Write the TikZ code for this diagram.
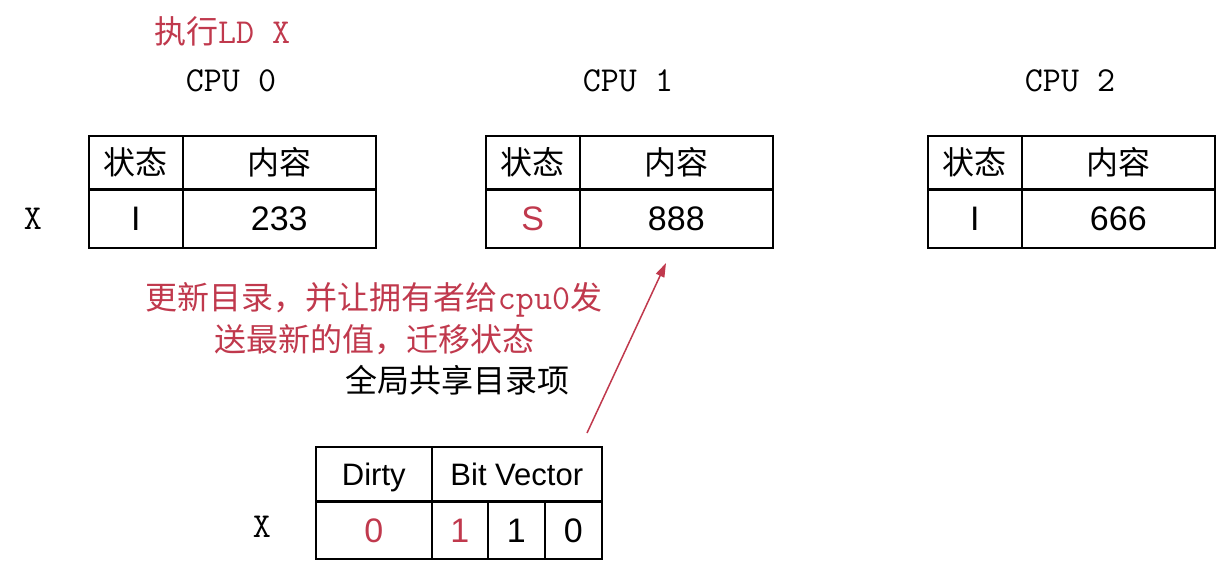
\documentclass[tikz,border=0pt]{standalone}
\usepackage{fontspec}
\setmainfont{Liberation Sans}
\newfontfamily\cjk{Noto Sans CJK SC}
\newcommand\mymono{\ttfamily}
\usetikzlibrary{arrows.meta}
\definecolor{hlred}{RGB}{192,57,77}
\tikzset{
  cell/.style={draw=black, line width=1.6pt, inner sep=0pt, anchor=north west, text height=24.5pt, text depth=0pt, font=\fontsize{34}{38}\selectfont},
  hdr/.style={cell, text height=26pt, text depth=2.5pt, font=\cjk\fontsize{32}{36}\selectfont},
  hdrlat/.style={cell, text height=22.5pt, text depth=0pt, font=\fontsize{31}{36}\selectfont},
  monolbl/.style={inner sep=0pt, font=\mymono\fontsize{35}{38}\selectfont},
  cjklbl/.style={inner sep=0pt, font=\cjk\fontsize{32}{36}\selectfont},
  thickline/.style={line width=3pt},
  redarrow/.style={draw=hlred, line width=1.5pt, -{Triangle[length=14pt,width=9pt]}}
}
\begin{document}
\begin{tikzpicture}[x=1pt,y=-1pt]
\useasboundingbox (0,0) rectangle (1218,574);
% title
\node[inner sep=0pt, anchor=west, text=hlred] (title) at (154,31) {{\cjk\fontsize{32}{36}\selectfont 执行}{\mymono\fontsize{35}{38}\selectfont LD X}};
% CPU labels
\node[monolbl] (cpu0) at (231,81) {CPU 0};
\node[monolbl] (cpu1) at (628,81) {CPU 1};
\node[monolbl] (cpu2) at (1070,81) {CPU 2};
\node[monolbl] (xcpu) at (33,219) {X};
% CPU 0 table
\node[hdr, minimum width=94pt, minimum height=53pt] (t0s) at (88,135) {状态};
\node[hdr, minimum width=193pt, minimum height=53pt] (t0c) at (182,135) {内容};
\node[cell, minimum width=94pt, minimum height=59pt] (t0sv) at (88,188) {I};
\node[cell, minimum width=193pt, minimum height=59pt] (t0cv) at (182,188) {233};
\draw[thickline] (t0s.south west) -- (t0c.south east);
% CPU 1 table
\node[hdr, minimum width=94pt, minimum height=53pt] (t1s) at (485,135) {状态};
\node[hdr, minimum width=193pt, minimum height=53pt] (t1c) at (579,135) {内容};
\node[cell, minimum width=94pt, minimum height=59pt, text=hlred] (t1sv) at (485,188) {S};
\node[cell, minimum width=193pt, minimum height=59pt] (t1cv) at (579,188) {888};
\draw[thickline] (t1s.south west) -- (t1c.south east);
% CPU 2 table
\node[hdr, minimum width=94pt, minimum height=53pt] (t2s) at (927,135) {状态};
\node[hdr, minimum width=193pt, minimum height=53pt] (t2c) at (1021,135) {内容};
\node[cell, minimum width=94pt, minimum height=59pt] (t2sv) at (927,188) {I};
\node[cell, minimum width=193pt, minimum height=59pt] (t2cv) at (1021,188) {666};
\draw[thickline] (t2s.south west) -- (t2c.south east);
% red explanation
\node[cjklbl, text=hlred] (note1) at (374,300) {更新目录，并让拥有者给{\mymono\fontsize{35}{38}\selectfont cpu0}发};
\node[cjklbl, text=hlred] (note2) at (374,340) {送最新的值，迁移状态};
\node[cjklbl] (dirtitle) at (457,380) {全局共享目录项};
% directory table
\node[hdrlat, minimum width=116pt, minimum height=54pt] (dd) at (315,446) {Dirty};
\node[hdrlat, minimum width=170pt, minimum height=54pt] (db) at (431,446) {Bit Vector};
\node[cell, minimum width=116pt, minimum height=58pt, text=hlred] (dv) at (315,500) {0};
\node[cell, minimum width=56pt, minimum height=58pt, text=hlred] (b0) at (431,500) {1};
\node[cell, minimum width=57pt, minimum height=58pt] (b1) at (487,500) {1};
\node[cell, minimum width=57pt, minimum height=58pt] (b2) at (544,500) {0};
\draw[thickline] (dd.south west) -- (db.south east);
\node[monolbl] (xdir) at (262,527) {X};
% arrow
\coordinate (arrtail) at (587,433);
\coordinate (arrtip) at (666,263);
\draw[redarrow] (arrtail) -- (arrtip);
\end{tikzpicture}
\end{document}
